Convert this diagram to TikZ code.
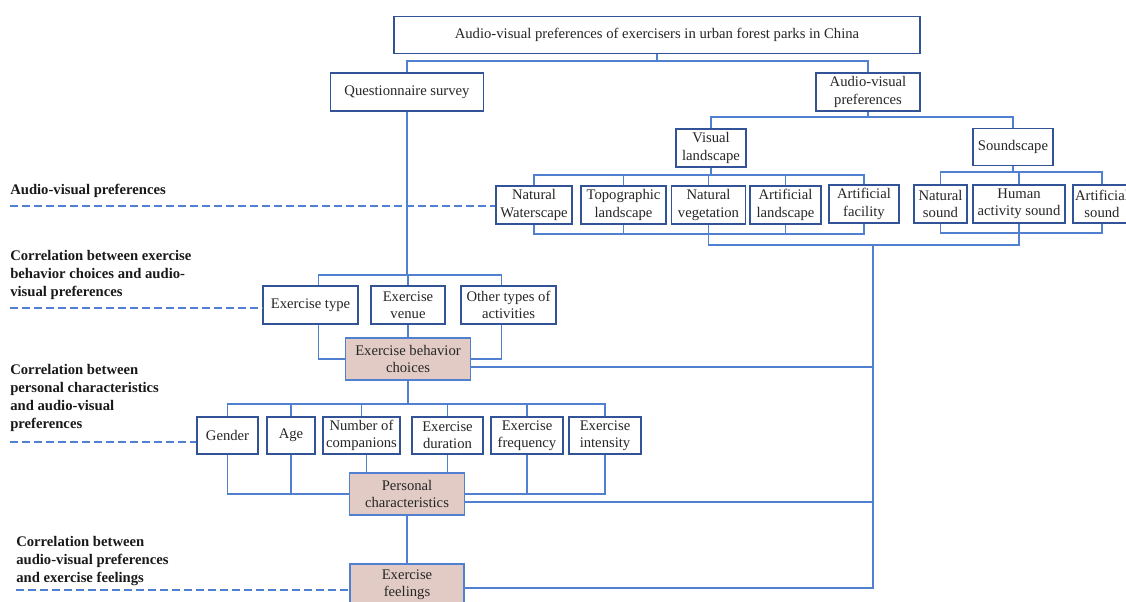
\documentclass[tikz,border=0pt]{standalone}
\usepackage{fontspec}
\setmainfont{Liberation Serif}
\usepackage{tikz}
\usetikzlibrary{calc}

\definecolor{lineblue}{RGB}{82,128,209}
\definecolor{boxblue}{RGB}{50,84,150}
\definecolor{shade}{RGB}{225,203,196}

\begin{document}
\begin{tikzpicture}[
    x=0.75pt, y=-0.75pt,
    font=\fontsize{11}{13}\selectfont,
    box/.style={
      draw=boxblue,
      line width=1.1pt,
      fill=white,
      text=black!85,
      align=center,
      inner sep=1pt,
      minimum height=28.5pt
    },
    shadebox/.style={
      box,
      draw=lineblue,
      fill=shade,
      minimum height=31.5pt
    },
    tag/.style={
      font=\fontsize{11}{13.5}\selectfont\bfseries,
      text=black!90,
      align=left,
      anchor=west,
      inner sep=0pt
    },
    link/.style={draw=lineblue, line width=0.9pt},
    guide/.style={link, dash pattern=on 6pt off 3pt}
  ]

  \useasboundingbox (0,0) rectangle (1126,602);
  \clip (0,0) rectangle (1126,602);

  % Nodos
  \node[box, minimum width=394.5pt, minimum height=27.75pt] (title) at (657,35)
    {Audio-visual preferences of exercisers in urban forest parks in China};
  \node[box, minimum width=114.75pt] (survey) at (407,92) {Questionnaire survey};
  \node[box, minimum width=78pt] (avp) at (868,92) {Audio-visual\\preferences};
  \node[box, minimum width=52.5pt] (visual) at (711,148) {Visual\\landscape};
  \node[box, minimum width=60pt, minimum height=27.75pt] (sound) at (1013,147) {Soundscape};

  % fila del paisaje
  \node[box, minimum width=57pt] (nw) at (534,205) {Natural\\Waterscape};
  \node[box, minimum width=63.75pt] (tl) at (623.5,205) {Topographic\\landscape};
  \node[box, minimum width=55.5pt] (nv) at (708.5,205) {Natural\\vegetation};
  \node[box, minimum width=53.25pt] (al) at (785.5,205) {Artificial\\landscape};
  \node[box, minimum width=52.5pt] (af) at (864,204) {Artificial\\facility};
  \node[box, minimum width=39.75pt] (ns) at (940.5,204) {Natural\\sound};
  \node[box, minimum width=69pt] (has) at (1019,204) {Human\\activity sound};
  \node[box, minimum width=43.5pt] (as) at (1102,204) {Artificial\\sound};

  % comportamiento
  \node[box, minimum width=71.25pt] (etype) at (310.5,305) {Exercise type};
  \node[box, minimum width=55.5pt] (evenue) at (408,305) {Exercise\\venue};
  \node[box, minimum width=71.25pt] (other) at (508.5,305) {Other types of\\activities};
  \node[shadebox, minimum width=93.75pt] (ebc) at (408,359) {Exercise behavior\\choices};

  % caracteristicas
  \node[box, minimum width=45.75pt, minimum height=27.75pt] (gender) at (227.5,435.5) {Gender};
  \node[box, minimum width=36pt, minimum height=27.75pt] (age) at (291,435.5) {Age};
  \node[box, minimum width=57.75pt, minimum height=27.75pt] (noc) at (361.5,435.5) {Number of\\companions};
  \node[box, minimum width=53.25pt, minimum height=27.75pt] (dur) at (447.5,435.5) {Exercise\\duration};
  \node[box, minimum width=54pt, minimum height=27.75pt] (freq) at (527,435.5) {Exercise\\frequency};
  \node[box, minimum width=54pt, minimum height=27.75pt] (inten) at (605,435.5) {Exercise\\intensity};
  \node[shadebox, minimum width=86.25pt] (pc) at (407,494) {Personal\\characteristics};
  \node[shadebox, minimum width=85.5pt] (ef) at (407,585) {Exercise\\feelings};

  % Etiquetas
  \node[tag] (tagav) at (10,191) {Audio-visual preferences};
  \node[tag] (tagbeh) at (10,275) {Correlation between exercise\\behavior choices and audio-\\visual preferences};
  \node[tag] (tagper) at (10,398) {Correlation between\\personal characteristics\\and audio-visual\\preferences};
  \node[tag] (tagfeel) at (16,561) {Correlation between\\audio-visual preferences\\and exercise feelings};

  % Conexiones
  \coordinate (t0) at (657,61);
  \draw[link] (title.south) -- (t0);
  \draw[link] (survey.north) |- (t0) -| (avp.north);

  \coordinate (t1) at (868,117);
  \draw[link] (avp.south) -- (t1);
  \draw[link] (visual.north) |- (t1) -| (sound.north);

  \coordinate (t2) at (711,175);
  \draw[link] (visual.south) -- (t2);
  \draw[link] (nw.north) |- (t2) -| (af.north);
  \foreach \n in {tl, nv, al}
    \draw[link] (\n.north) -- (\n.north |- t2);

  \coordinate (t3) at (1013,172);
  \draw[link] (sound.south) -- (t3);
  \draw[link] (ns.north) |- (t3) -| (as.north);
  \draw[link] (has.north) -- (has.north |- t3);

  \coordinate (u2) at (711,234);
  \draw[link] (nw.south) |- (u2) -| (af.south);
  \foreach \n in {tl, al}
    \draw[link] (\n.south) -- (\n.south |- u2);

  \coordinate (u3) at (1019,233);
  \draw[link] (ns.south) |- (u3) -| (as.south);

  \coordinate (trunk) at (873,245);
  \draw[link] (nv.south) |- (trunk) -| (has.south);

  \coordinate (foot) at (873,588);
  \draw[link] (trunk) -- (foot) -- (foot -| ef.east);
  \coordinate (e1) at ($(ebc.east)+(0,8)$);
  \draw[link] (e1) -- (e1 -| trunk);
  \coordinate (e2) at ($(pc.east)+(0,8)$);
  \draw[link] (e2) -- (e2 -| trunk);

  % encuesta
  \coordinate (t4) at (407,275);
  \draw[link] (survey.south) -- (survey.south |- t4);
  \draw[link] ([xshift=6pt]etype.north) |- (t4) -| ([xshift=-5pt]other.north);
  \draw[link] (evenue.north) -- (evenue.north |- t4);
  \draw[link] ([xshift=6pt]etype.south) |- (ebc.west);
  \draw[link] ([xshift=-5pt]other.south) |- (ebc.east);
  \draw[link] (evenue.south) -- (ebc.north);

  \coordinate (t5) at (407,404);
  \draw[link] (ebc.south) -- (ebc.south |- t5);
  \draw[link] (gender.north) |- (t5) -| (inten.north);
  \foreach \n in {age, noc, dur, freq}
    \draw[link] (\n.north) -- (\n.north |- t5);
  \draw[link] (gender.south) |- (pc.west);
  \draw[link] (age.south) -- (age.south |- pc.west);
  \draw[link] ([xshift=4pt]noc.south) -- ++(0,19);
  \draw[link] (dur.south) -- (dur.south |- pc.north);
  \draw[link] (freq.south) |- (pc.east);
  \draw[link] (inten.south) |- (pc.east);
  \draw[link] (pc.south) -- (ef.north);

  % Lineas guia
  \coordinate (g1) at (10,206);
  \draw[guide] (g1) -- (g1 -| nw.west);
  \coordinate (g2) at (10,308);
  \draw[guide] (g2) -- (g2 -| etype.west);
  \coordinate (g3) at (10,442);
  \draw[guide] (g3) -- (g3 -| gender.west);
  \coordinate (g4) at (16,590);
  \draw[guide] (g4) -- (g4 -| ef.west);

\end{tikzpicture}
\end{document}
